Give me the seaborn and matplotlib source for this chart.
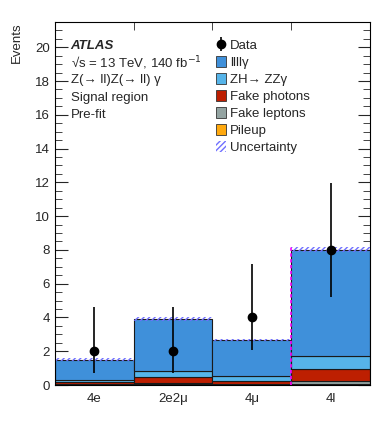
import numpy as np
import pandas as pd
import matplotlib
matplotlib.use("Agg")
import matplotlib.pyplot as plt
import seaborn as sns
from matplotlib.patches import Patch
from matplotlib.ticker import MultipleLocator

# channels / bins
channels = ["4e", "2e2\u03bc", "4\u03bc", "4l"]

# background + signal expectations per channel
llllg = [1.23, 3.07, 2.14, 6.28]
zh_zzg = [0.12, 0.36, 0.27, 0.79]
fake_photons = [0.08, 0.33, 0.20, 0.71]
fake_leptons = [0.05, 0.10, 0.04, 0.14]
pileup = [0.02, 0.04, 0.02, 0.08]
uncertainty = [0.08, 0.10, 0.08, 0.15]

# observed data with asymmetric poisson errors
data = [2, 2, 4, 8]
data_err_lo = [1.29, 1.29, 1.91, 2.77]
data_err_hi = [2.64, 2.64, 3.16, 3.94]

process_names = ["llll\u03b3", "ZH\u2192 ZZ\u03b3", "Fake photons", "Fake leptons", "Pileup"]
process_colors = ["#3f90da", "#56b4e9", "#bd1f01", "#94a4a2", "#ffa90e"]

sns.set_style("ticks")
plt.rcParams["font.family"] = ["Liberation Sans", "DejaVu Sans"]

# long table for seaborn
rows = []
for name, vals in zip(process_names, [llllg, zh_zzg, fake_photons, fake_leptons, pileup]):
    for i, v in enumerate(vals):
        rows.append({"bin": i + 0.5, "process": name, "events": v})
df = pd.DataFrame(rows)

fig = plt.figure(figsize=(3.89, 4.38), dpi=100)
ax = fig.add_axes([0.141, 0.121, 0.810, 0.829])

sns.histplot(data=df, x="bin", weights="events", hue="process", hue_order=process_names,
             palette=process_colors, multiple="stack", bins=[0, 1, 2, 3, 4],
             element="bars", alpha=1, edgecolor="#1a1a1a", linewidth=0.8,
             legend=False, ax=ax)

# uncertainty band on the total
total = np.sum([llllg, zh_zzg, fake_photons, fake_leptons, pileup], axis=0)
unc = np.array(uncertainty)
ax.bar(np.arange(4) + 0.5, 2 * unc, bottom=total - unc, width=1.0, fill=False,
       hatch="//////", edgecolor="#7070ff", linewidth=0)

# magenta line separating the combined channel
ax.vlines(3, 0, total[3] + unc[3], color="#ff00ff", linestyle=(0, (2, 1.5)),
          linewidth=1.2, zorder=3)

# data
data_handle = ax.errorbar(np.arange(4) + 0.5, data, yerr=[data_err_lo, data_err_hi], fmt="o",
                          color="black", markersize=6, elinewidth=1.2, capsize=0, zorder=5)

ax.set_xlim(0, 4)
ax.set_ylim(0, 21.5)
ax.set_xticks(np.arange(4) + 0.5)
ax.set_xticklabels(channels, fontsize=9.5)
ax.set_xticks([1, 2, 3], minor=True)
ax.tick_params(axis="x", which="major", length=0, pad=6)
ax.tick_params(axis="x", which="minor", direction="in", length=6, top=True, bottom=True)
ax.yaxis.set_major_locator(MultipleLocator(2))
ax.yaxis.set_minor_locator(MultipleLocator(0.5))
ax.tick_params(axis="y", which="major", direction="in", length=9, right=True, labelsize=9.5)
ax.tick_params(axis="y", which="minor", direction="in", length=5, right=True)
ax.set_xlabel("")
ax.set_ylabel("Events", fontsize=9.5, loc="top", labelpad=9)
for s in ax.spines.values():
    s.set_linewidth(0.8)
    s.set_color("black")

# ATLAS label
ax.text(0.05, 0.9345, "ATLAS", transform=ax.transAxes, fontsize=9.5,
        fontweight="bold", fontstyle="italic", va="center")
info = ["\u221as = 13 TeV, 140 fb$^{-1}$", "Z(\u2192 ll)Z(\u2192 ll) \u03b3",
        "Signal region", "Pre-fit"]
for k, line in enumerate(info):
    ax.text(0.05, 0.9345 - (k + 1) * 0.0477, line, transform=ax.transAxes,
            fontsize=9.5, va="center")

handles = [data_handle]
handles += [Patch(facecolor=c, edgecolor="#333333", linewidth=0.6) for c in process_colors]
handles += [Patch(facecolor="none", edgecolor="#7070ff", hatch="//////", linewidth=0)]
labels = ["Data"] + process_names + ["Uncertainty"]
leg = ax.legend(handles, labels, loc="upper left", bbox_to_anchor=(0.496, 0.967),
                frameon=False, fontsize=9.5, handlelength=0.75, handleheight=0.85,
                handletextpad=0.3, labelspacing=0.32, borderaxespad=0)

fig.savefig("out.png", dpi=100)
